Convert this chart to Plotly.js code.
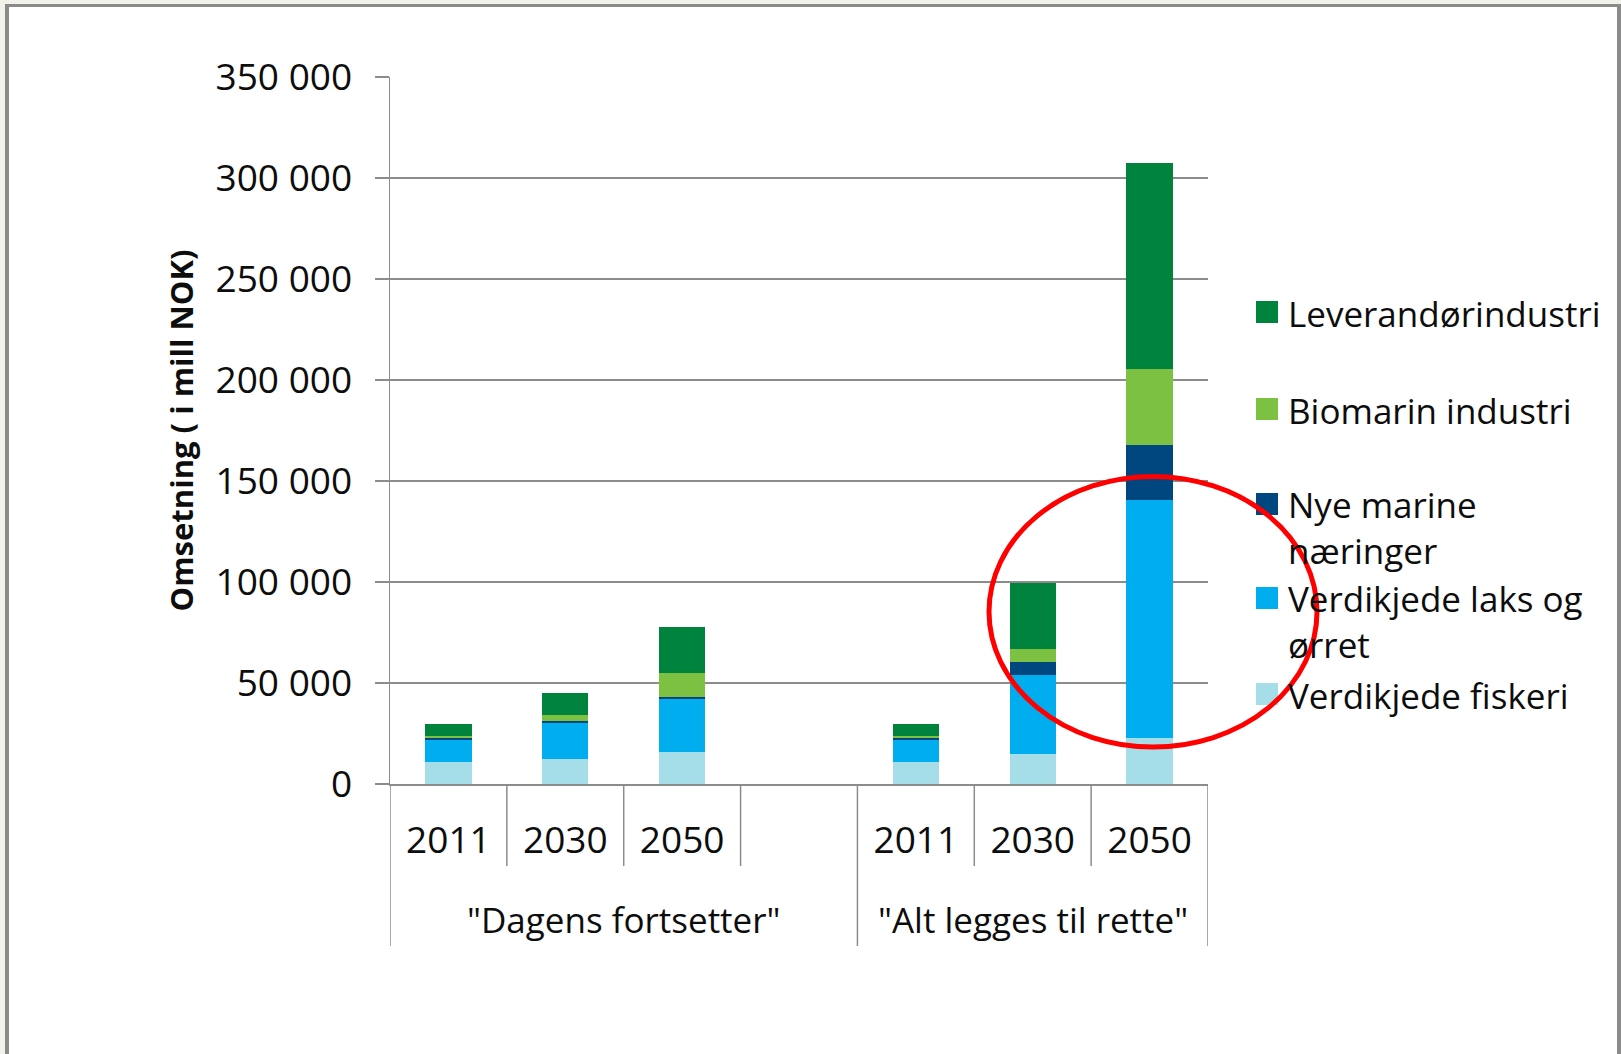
<!DOCTYPE html>
<html>
<head>
<meta charset="utf-8">
<script src="https://cdn.plot.ly/plotly-3.0.1.min.js"></script>
<style>
  html, body { margin: 0; padding: 0; background: #f2f2ea; width: 1621px; height: 1054px; overflow: hidden; }
  #frame { position: absolute; left: 5px; top: 4px; width: 1608px; height: 1100px; background: #ffffff;
           border-left: 4px solid #8a8a8a; border-right: 4px solid #8a8a8a; border-top: 3px solid #8a8a8a; }
  #chart { position: absolute; left: 0; top: 0; width: 1621px; height: 1054px; }
</style>
</head>
<body>
<div id="frame"></div>
<div id="chart"></div>
<script>
// ---- data (mill NOK) ----
const scenarios = ['"Dagens fortsetter"', '"Alt legges til rette"'];
const years = ['2011', '2030', '2050'];
const seriesNames = ['Verdikjede fiskeri', 'Verdikjede laks og ørret', 'Nye marine næringer', 'Biomarin industri', 'Leverandørindustri'];
const legendLabels = ['Verdikjede fiskeri', 'Verdikjede laks og<br>ørret', 'Nye marine<br>næringer', 'Biomarin industri', 'Leverandørindustri'];
const colors = ['#a5dde8', '#00adee', '#00467f', '#7cc142', '#00843d'];
const fiskeri = [10700, 12600, 15600, 10800, 14900, 22700];
const laks    = [11200, 17700, 26400, 11200, 39000, 118100];
const nye     = [800, 1000, 1200, 1000, 6600, 27200];
const bio     = [900, 3000, 12000, 1000, 6200, 37500];
const lev     = [6000, 10800, 22600, 5900, 32800, 101900];
const yTickVals = [0, 50000, 100000, 150000, 200000, 250000, 300000, 350000];

const seriesValues = [fiskeri, laks, nye, bio, lev];

// ---- category keys (with an empty slot after the first scenario) ----
const barKeys = [];
scenarios.forEach(s => years.forEach(y => barKeys.push(s + ' ' + y)));
const gapKey = 'gap';
const catArray = [];
const catText = [];
scenarios.forEach((s, si) => {
  years.forEach(y => { catArray.push(s + ' ' + y); catText.push(y); });
  if (si === 0) { catArray.push(gapKey); catText.push(''); }
});

// ---- geometry helpers (layout only) ----
const W = 1621, H = 1054;
const M = { l: 390, r: 413, t: 77, b: 270 };
const PW = W - M.l - M.r, PH = H - M.t - M.b;
const px2x = px => (px - M.l) / PW;
const py2y = py => (H - M.b - py) / PH;

const FONT = '"Open Sans", Lato, sans-serif';
const TXT = '#0d0d0d';
const GRID = '#8c8c8c';
const FS = 35;
const TFS = 37;

const traces = seriesValues.map((vals, i) => ({
  type: 'bar',
  name: seriesNames[i],
  x: barKeys,
  y: vals,
  marker: { color: colors[i], line: { width: 0 } },
  showlegend: false,
  hovertemplate: '%{x}: %{y}<extra>' + seriesNames[i] + '</extra>'
}));

// separators under the x axis
const shapes = [];
const groupEdges = [0];
let acc = 0;
scenarios.forEach((s, si) => { acc += years.length + (si === 0 ? 1 : 0); groupEdges.push(acc); });
for (let i = 0; i <= catArray.length; i++) {
  const isGroup = groupEdges.includes(i);
  shapes.push({
    type: 'line', xref: 'x', yref: 'paper',
    x0: i - 0.5, x1: i - 0.5, y0: 0, y1: py2y(isGroup ? 946 : 866),
    line: { color: GRID, width: 1.5 }
  });
}

// legend (drawn manually to mimic the source layout)
const legendRowY = [694, 598, 504, 409, 312];
const annotations = [];
const LH = FS * 1.3;
seriesNames.forEach((n, i) => {
  const yc = legendRowY[i];
  shapes.push({
    type: 'rect', xref: 'paper', yref: 'paper',
    x0: px2x(1256), x1: px2x(1278), y0: py2y(yc - 11), y1: py2y(yc + 11),
    fillcolor: colors[i], line: { width: 0 }
  });
  const nLines = legendLabels[i].split('<br>').length;
  annotations.push({
    xref: 'paper', yref: 'paper', x: px2x(1286), y: py2y(yc + 1 + (nLines - 1) * LH / 2),
    xanchor: 'left', yanchor: 'middle', align: 'left', showarrow: false,
    text: legendLabels[i], font: { family: FONT, size: FS, color: TXT }
  });
});

// scenario group labels
let start = 0;
scenarios.forEach((s, si) => {
  const n = years.length + (si === 0 ? 1 : 0);
  annotations.push({
    xref: 'x', yref: 'paper', x: start + (n - 1) / 2, y: py2y(919),
    xanchor: 'center', yanchor: 'middle', showarrow: false,
    text: s, font: { family: FONT, size: FS, color: TXT }
  });
  start += n;
});

// red highlight ellipse
shapes.push({
  type: 'circle', xref: 'paper', yref: 'paper', layer: 'above',
  x0: px2x(989), x1: px2x(1317), y0: py2y(747), y1: py2y(476.5),
  line: { color: '#ff0000', width: 5 }
});

const layout = {
  width: W, height: H,
  margin: M,
  paper_bgcolor: 'rgba(0,0,0,0)',
  plot_bgcolor: 'rgba(0,0,0,0)',
  barmode: 'stack',
  bargap: 0.605,
  separators: ', ',
  showlegend: false,
  font: { family: FONT, size: FS, color: TXT },
  xaxis: {
    type: 'category',
    categoryorder: 'array',
    categoryarray: catArray,
    tickmode: 'array',
    tickvals: catArray,
    ticktext: catText,
    range: [-0.5, catArray.length - 0.5],
    showgrid: false,
    showline: true, linecolor: GRID, linewidth: 1.5,
    ticks: '',
    ticklabelstandoff: 23,
    tickfont: { family: FONT, size: TFS, color: TXT },
    zeroline: false
  },
  yaxis: {
    range: [0, 350000],
    tickmode: 'array',
    tickvals: yTickVals,
    tickformat: ',d',
    showgrid: true, gridcolor: GRID, gridwidth: 1.5,
    showline: true, linecolor: GRID, linewidth: 1.5,
    ticks: 'outside', ticklen: 14, tickcolor: GRID, tickwidth: 1.5,
    ticklabelstandoff: 15,
    tickfont: { family: FONT, size: TFS, color: TXT },
    zeroline: false,
    title: { text: 'Omsetning ( i mill NOK)', standoff: 12,
             font: { family: FONT, size: 31, color: TXT, weight: 'bold' } }
  },
  shapes: shapes,
  annotations: annotations
};

Plotly.newPlot('chart', traces, layout, { displayModeBar: false, staticPlot: true });
</script>
</body>
</html>
